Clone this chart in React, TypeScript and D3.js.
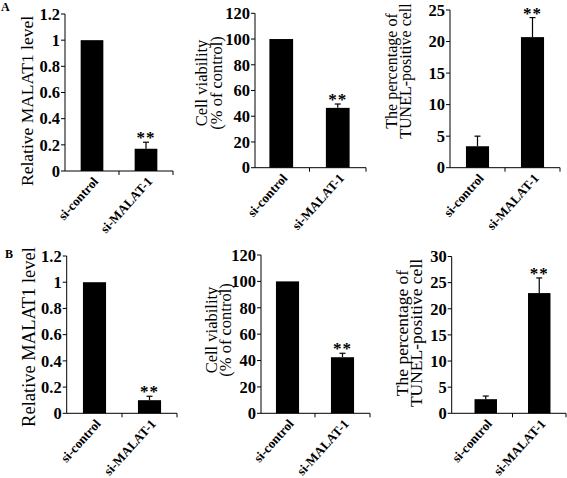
import React from "react";
import * as d3 from "d3";

const categories = ["si-control", "si-MALAT-1"];
const significance = ["", "**"];

const a1Values = [1, 0.17];
const a1Errors = [0, 0.05];
const a2Values = [100, 46.5];
const a2Errors = [0, 3];
const a3Values = [3.4, 20.7];
const a3Errors = [1.6, 3.1];

const b1Values = [1, 0.1];
const b1Errors = [0, 0.03];
const b2Values = [100, 42.5];
const b2Errors = [0, 3];
const b3Values = [2.7, 23];
const b3Errors = [0.6, 2.9];

const relTicks = [0, 0.2, 0.4, 0.6, 0.8, 1, 1.2];
const viabilityTicks = [0, 20, 40, 60, 80, 100, 120];
const tunelTicksA = [0, 5, 10, 15, 20, 25];
const tunelTicksB = [0, 5, 10, 15, 20, 25, 30];

const relTitle = ["Relative MALAT1 level"];
const viabilityTitle = ["Cell viability", "(% of control)"];
const tunelTitle = ["The percentage of", "TUNEL-positive cell"];

const panelLetters = ["A", "B"];

type PanelCfg = {
  values: number[];
  errors: number[];
  ticks: number[];
  title: string[];
  axisX: number;
  bandStart: number;
  bandEnd: number;
  yTop: number;
  yBottom: number;
  titleX: number[];
  titleY: number;
  titleSize: number;
};

const SERIF = "'Liberation Serif', 'Times New Roman', serif";

function Panel({ cfg }: { cfg: PanelCfg }) {
  const maxTick = cfg.ticks[cfg.ticks.length - 1];
  const y = d3.scaleLinear().domain([0, maxTick]).range([cfg.yBottom, cfg.yTop]);
  const x = d3
    .scaleBand<string>()
    .domain(categories)
    .range([cfg.bandStart, cfg.bandEnd])
    .paddingInner(0)
    .paddingOuter(0);
  const bw = x.bandwidth() * 0.42;
  const fmt = d3.format("");
  return (
    <g>
      {categories.map((c, i) => {
        const cx = (x(c) as number) + x.bandwidth() / 2;
        const v = cfg.values[i];
        const e = cfg.errors[i];
        const top = y(v);
        const errTop = y(v + e);
        return (
          <g key={c}>
            <rect x={cx - bw / 2} y={top} width={bw} height={cfg.yBottom - top} fill="#000" />
            {e > 0 && (
              <g stroke="#000" strokeWidth={1.2}>
                <line x1={cx} x2={cx} y1={top} y2={errTop} />
                <line x1={cx - 3} x2={cx + 3} y1={errTop} y2={errTop} />
              </g>
            )}
            {significance[i] && (
              <text
                x={cx}
                y={errTop + 1}
                textAnchor="middle"
                fontFamily={SERIF}
                fontWeight="bold"
                fontSize={17}
                letterSpacing={1}
              >
                {significance[i]}
              </text>
            )}
            <text
              transform={`translate(${cx + 7},${cfg.yBottom + 11}) rotate(-48)`}
              textAnchor="end"
              fontFamily={SERIF}
              fontWeight="bold"
              fontSize={13}
            >
              {c}
            </text>
          </g>
        );
      })}
      <line x1={cfg.axisX} x2={cfg.axisX} y1={y(maxTick)} y2={cfg.yBottom} stroke="#000" strokeWidth={1} />
      {cfg.ticks.map((t) => (
        <g key={t}>
          <line x1={cfg.axisX - 4} x2={cfg.axisX} y1={y(t)} y2={y(t)} stroke="#000" strokeWidth={1} />
          <text
            x={cfg.axisX - 5}
            y={y(t)}
            dy="0.35em"
            textAnchor="end"
            fontFamily={SERIF}
            fontWeight="bold"
            fontSize={16.5}
          >
            {fmt(t)}
          </text>
        </g>
      ))}
      <line x1={cfg.axisX} x2={cfg.bandEnd} y1={cfg.yBottom} y2={cfg.yBottom} stroke="#000" strokeWidth={1} />
      {categories.map((c) => {
        const xe = (x(c) as number) + x.bandwidth();
        return <line key={c} x1={xe} x2={xe} y1={cfg.yBottom} y2={cfg.yBottom + 4} stroke="#000" strokeWidth={1} />;
      })}
      {cfg.title.map((line, i) => (
        <text
          key={line}
          transform={`translate(${cfg.titleX[i]},${cfg.titleY}) rotate(-90)`}
          textAnchor="middle"
          dominantBaseline="central"
          fontFamily={SERIF}
          fontSize={cfg.titleSize}
        >
          {line}
        </text>
      ))}
    </g>
  );
}

export default function App() {
  const panels: PanelCfg[] = [
    { values: a1Values, errors: a1Errors, ticks: relTicks, title: relTitle, axisX: 65, bandStart: 65, bandEnd: 173, yTop: 14, yBottom: 171, titleX: [27], titleY: 101, titleSize: 17.5 },
    { values: a2Values, errors: a2Errors, ticks: viabilityTicks, title: viabilityTitle, axisX: 255, bandStart: 253, bandEnd: 366, yTop: 13.3, yBottom: 167.7, titleX: [201, 216], titleY: 83, titleSize: 16.5 },
    { values: a3Values, errors: a3Errors, ticks: tunelTicksA, title: tunelTitle, axisX: 450, bandStart: 450, bandEnd: 560, yTop: 10, yBottom: 167.7, titleX: [391, 405], titleY: 71, titleSize: 16 },
    { values: b1Values, errors: b1Errors, ticks: relTicks, title: relTitle, axisX: 66.7, bandStart: 67, bandEnd: 177, yTop: 256, yBottom: 413.3, titleX: [29], titleY: 337, titleSize: 18.5 },
    { values: b2Values, errors: b2Errors, ticks: viabilityTicks, title: viabilityTitle, axisX: 261, bandStart: 260, bandEnd: 370, yTop: 255, yBottom: 413.3, titleX: [211, 225], titleY: 330, titleSize: 16.5 },
    { values: b3Values, errors: b3Errors, ticks: tunelTicksB, title: tunelTitle, axisX: 451.7, bandStart: 459, bandEnd: 566, yTop: 256.5, yBottom: 413.3, titleX: [402, 416], titleY: 333, titleSize: 17.5 },
  ];
  return (
    <svg
      width={567}
      height={478}
      viewBox="0 0 567 478"
      style={{ position: "absolute", left: 0, top: 0, background: "#fff" }}
    >
      <rect x={0} y={0} width={567} height={478} fill="#fff" />
      <text x={1} y={11} fontFamily={SERIF} fontWeight="bold" fontSize={12}>
        {panelLetters[0]}
      </text>
      <text x={5} y={258} fontFamily={SERIF} fontWeight="bold" fontSize={12}>
        {panelLetters[1]}
      </text>
      {panels.map((p, i) => (
        <Panel key={i} cfg={p} />
      ))}
    </svg>
  );
}
